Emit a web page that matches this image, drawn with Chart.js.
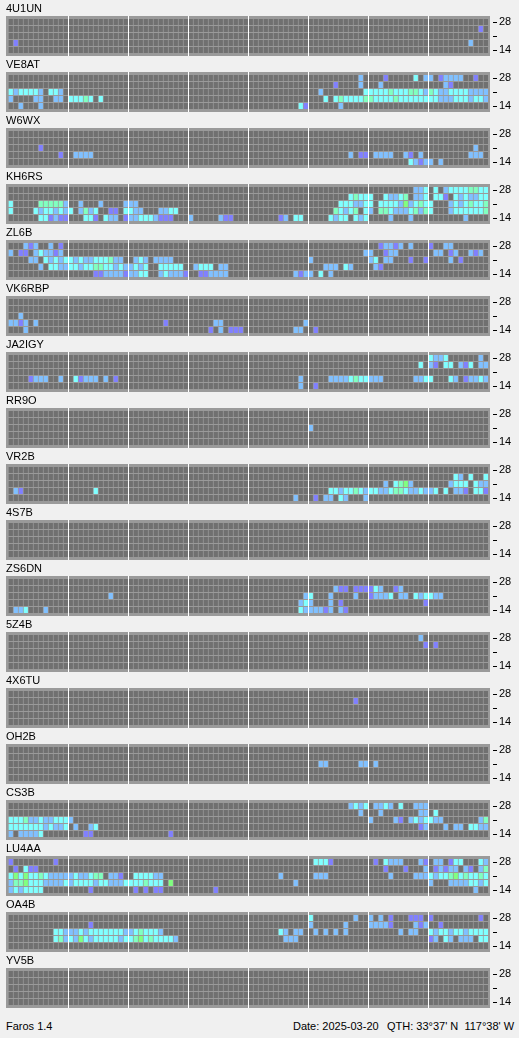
<!DOCTYPE html>
<html>
<head>
<meta charset="utf-8">
<script src="https://cdn.jsdelivr.net/npm/chart.js@4.4.1/dist/chart.umd.min.js"></script>
<style>
  body { margin: 0; background: #f0f0f0; width: 519px; height: 1038px; position: relative; overflow: hidden;
         font-family: "Liberation Sans", Arial, sans-serif; color: #000; }
  .panel { position: absolute; left: 0; width: 519px; height: 56px; }
  .panel canvas { position: absolute; left: 0; top: 0; }
  .name { position: absolute; left: 6px; top: 3px; font-size: 11px; line-height: 11px; }
  .foot { position: absolute; top: 1021px; font-size: 11px; line-height: 11px; white-space: pre; }
</style>
</head>
<body>
<div id="panels"></div>
<div class="foot" style="left:6px">Faros 1.4</div>
<div class="foot" style="left:293px">Date: 2025-03-20</div>
<div class="foot" style="left:387px">QTH: 33°37' N  117°38' W</div>
<script>
// Beacon stations, top to bottom
const stations = ['4U1UN', 'VE8AT', 'W6WX', 'KH6RS', 'ZL6B', 'VK6RBP', 'JA2IGY', 'RR9O', 'VR2B',
                  '4S7B', 'ZS6DN', '5Z4B', '4X6TU', 'OH2B', 'CS3B', 'LU4AA', 'OA4B', 'YV5B'];

// Bands, top row to bottom row (MHz)
const bandLabels = ['28', '24', '21', '18', '14'];

// 15 minute slots over the day
const slotLabels = [];
for (let h = 0; h < 24; h++) {
  for (let m = 0; m < 60; m += 15) {
    slotLabels.push(String(h).padStart(2, '0') + ':' + String(m).padStart(2, '0'));
  }
}

// Signal level codes: b, p, c, g, G ; '.' = not heard
// each row is "startSlot:codes" runs, rows in band order 28..14
const heard = [
  ['', '94:p', '', '1:p 92:b', ''],                                                     // 4U1UN
  ['70:b 75:p 81:c 83:bb 86:pbbbb 93:p',
   '65:p 70:b 74:b 87:bp',
   '0:cbccccb.ccb 62:b 71:cccccgcccggcbgcbbccccbbbb',
   '0:b 5:bb 9:bb 12:cccgc.c 63:c.cgccccggccccgccccccccbbbcccbccb',
   '2:b 6:b 58:cp 66:b'],                                                               // VE8AT
  ['', '', '6:p 93:b', '10:p 13:bbbb 68:b.pp.bbbb..bp.b 92:bbb', '80:cbpbb.b'],         // W6WX
  ['81:bbc.c.bccccggcc',
   '68:cgccc..cbbcg.bbc.ccp.cbcbbcc',
   '0:c 6:gggggb 14:b 18:b 23:bbb 66:cccbbcc.ccccbGbcgcc...bcbcgccg',
   '0:c 5:cbccbcbc.bgbc 20:pp 23:ccbb 30:bbcc 65:gcbcg.cb.ggcbbbcgbgc...bccccccg',
   '6:ccpbpp 15:ccp.cbb.pbbcccbppp 36:b 42:bpp 54:pb.cc 64:cbcc.cbc 76:b 80:b 91:b'],   // KH6RS
  ['3:bpb 8:b 10:p 74:pbbpb.b 84:p 87:bb',
   '0:b 2:pp.bcbbpb 71:bb 75:pbb 85:bb.pb 92:bpb',
   '4:bb.cbcbccbcbbcccgbb..bcb.bbbb 60:b 72:bc.bb 80:p 83:p 88:b.p',
   '6:b.ccbbccbccggccbcbbcbc 30:ccccc 37:bccc.bb 63:bbb.cb 73:bp',
   '17:ppbbbbpbbcc 30:bcbbbp 38:ppbbbb 57:bpbb.c.b'],                                  // ZL6B
  ['', '', '2:b', '0:bbpb.b 31:p 41:bb 59:b', '3:b 40:p.b.ppp 57:bb 61:p'],             // VK6RBP
  ['84:cbbc 94:b', '82:c.bp.cc.bpc.bb', '',
   '4:pbbb..b..cpbbb.b.p 58:b 64:bbbbcgccbbb 81:bbcc 88:cb.pbbcb',
   '58:b 61:p'],                                                                        // JA2IGY
  ['', '', '60:b', '', ''],                                                             // RR9O
  ['', '89:cb.c..c', '75:b.cgGb 88:bccc.cbb',
   '1:bp 17:c 64:ccbccgcbccbbcggcbbcbbc.c.bbp.ccp',
   '57:b 61:p.bb.cb 71:b'],                                                             // VR2B
  ['', '', '', '', ''],                                                                 // 4S7B
  ['', '65:bpp.ppppcb..pb', '20:b 59:bc 64:b 69:b 72:pbbbc.bb.cbccbb',
   '58:bcb 64:b 66:p 83:p', '1:bbc 7:b 58:cbbbbpb.bp'],                                 // ZS6DN
  ['82:b', '83:p.p', '', '', ''],                                                       // 5Z4B
  ['', '69:p', '', '', ''],                                                             // 4X6TU
  ['', '', '62:bb 70:bb.b', '', ''],                                                    // OH2B
  ['68:bcbc.bbcb.c..bbb', '70:b 74:b 82:bb 85:c',
   '0:cccgbbcbbcccb 72:b 77:bp.bcbccbb 94:bg',
   '0:cccccccbcbbc.b 16:bc 82:pb 87:b.bb.ccbb',
   '0:b.bbbbc 15:pp 32:p'],                                                             // CS3B
  ['0:p 9:p 61:cccp 73:p.cbbb 82:bp.bb.pcc 94:cb',
   '1:p.cpp 75:p 79:p 83:b.pbpbb.bp.bg',
   '0:cGcGccgcbbbbbcbbcgg.bbp..ccccbb 54:b 61:bbb 76:b 81:bbbcbccgGcgccgc',
   '0:bggGcccbbbbcbccccbccbbbccccgccc.G 57:b 84:b 88:bbbbccbc',
   '0:bcbcccc 16:p 25:p.p.pp 41:p 93:b'],                                               // LU4AA
  ['60:c 69:b 72:b.b.p 80:ppp.p 94:p',
   '16:p 60:b 67:b 72:bbbbp 81:bpb 86:p',
   '9:ccbbbcbcccccccbbcgcccb 54:cb.bb 61:b.b.b.b 78:b.bb 84:cbccbccbcccc',
   '9:cgbcbGcbcccccbccgGcgccccb 55:bbb 84:pb.cb.bbb.cc',
   ''],                                                                                 // OA4B
  ['', '', '', '', '']                                                                  // YV5B
];

const levelColors = { b: '#80c0ff', p: '#8080ff', c: '#80ffff', g: '#80ffc0', G: '#80ff80' };
const emptyColor = '#707070';
const frameColor = '#9a9a9a';

function expandRow(spec) {
  const row = slotLabels.map(() => '.');
  spec.split(' ').filter(s => s).forEach(run => {
    const [start, codes] = run.split(':');
    for (let i = 0; i < codes.length; i++) row[+start + i] = codes[i];
  });
  return row;
}

// gray frame behind the cells
const framePlugin = {
  id: 'frame',
  beforeDraw(chart) {
    const a = chart.chartArea;
    const ctx = chart.ctx;
    ctx.save();
    ctx.fillStyle = frameColor;
    ctx.fillRect(a.left - 2, a.top, a.right - a.left + 4, a.bottom - a.top);
    ctx.restore();
  }
};

const host = document.getElementById('panels');

stations.forEach((name, s) => {
  const panel = document.createElement('div');
  panel.className = 'panel';
  panel.style.top = (56 * s) + 'px';
  const label = document.createElement('div');
  label.className = 'name';
  label.textContent = name;
  const canvas = document.createElement('canvas');
  canvas.width = 519;
  canvas.height = 56;
  panel.appendChild(canvas);
  panel.appendChild(label);
  host.appendChild(panel);

  const datasets = bandLabels.map((band, k) => {
    const codes = expandRow(heard[s][k]);
    return {
      label: band + ' MHz',
      data: codes.map(() => [k - 3 / 7, k + 3 / 7]),
      backgroundColor: codes.map(ch => ch === '.' ? emptyColor : levelColors[ch])
    };
  });

  new Chart(canvas.getContext('2d'), {
    type: 'bar',
    data: { labels: slotLabels, datasets: datasets },
    plugins: [framePlugin],
    options: {
      responsive: false,
      animation: false,
      events: [],
      layout: { padding: { left: 8, top: 16, right: 0, bottom: 0 } },
      datasets: {
        bar: {
          grouped: false,
          barThickness: 5,
          borderWidth: { left: 1, right: 0, top: 0, bottom: 0 },
          borderColor: frameColor,
          borderSkipped: false
        }
      },
      plugins: {
        legend: { display: false },
        tooltip: { enabled: false }
      },
      scales: {
        x: {
          type: 'category',
          offset: true,
          grid: {
            offset: true,
            z: 1,
            drawTicks: false,
            lineWidth: 1,
            color: ctx => (ctx.index > 0 && ctx.index < 96 && ctx.index % 12 === 0) ? '#ffffff' : 'rgba(0,0,0,0)'
          },
          border: { display: false },
          ticks: { display: false },
          afterFit: sc => { sc.height = 0; sc.paddingLeft = 0; sc.paddingRight = 0; }
        },
        y: {
          type: 'linear',
          position: 'right',
          reverse: true,
          min: -6 / 7,
          max: 34 / 7,
          afterBuildTicks: sc => { sc.ticks = bandLabels.map((b, i) => ({ value: i })); },
          afterFit: sc => { sc.width = 31; sc.paddingTop = 0; sc.paddingBottom = 0; },
          grid: {
            drawOnChartArea: false,
            drawTicks: true,
            tickLength: 9,
            tickColor: '#000000',
            tickWidth: 1,
            tickBorderDash: [0, 5, 4, 40]
          },
          border: { display: false },
          ticks: {
            padding: 2,
            color: '#000000',
            font: { family: '"Liberation Sans", Arial, sans-serif', size: 11 },
            callback: (v, i) => (i === 0 || i === bandLabels.length - 1) ? bandLabels[i] : ''
          }
        }
      }
    }
  });
});
</script>
</body>
</html>
